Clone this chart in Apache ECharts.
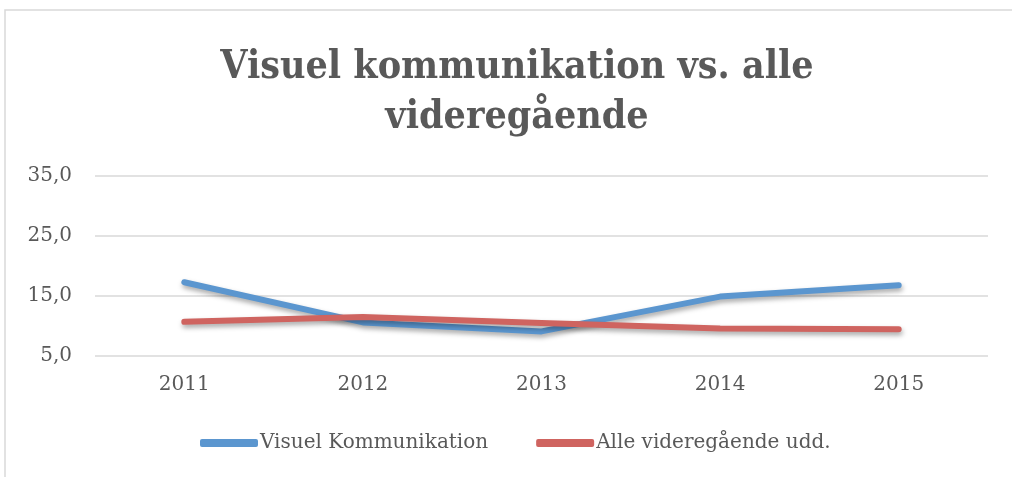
<!DOCTYPE html>
<html><head><meta charset="utf-8">
<script src="https://cdn.jsdelivr.net/npm/echarts@6/dist/echarts.min.js"></script>
<style>html,body{margin:0;padding:0;background:#fff}#c{width:1012px;height:477px}</style>
</head><body><div id="c"></div>
<script>
const categories = ['2011','2012','2013','2014','2015'];
const visuelKommunikation = [17.3, 10.6, 9.1, 14.9, 16.8];
const alleVideregaende = [10.7, 11.5, 10.5, 9.6, 9.45];
const seriesNames = ['Visuel Kommunikation', 'Alle videregående udd.'];
const titleText = 'Visuel kommunikation vs. alle\nvideregående';

const chart = echarts.init(document.getElementById('c'), null, {renderer:'canvas'});
const serif = '"DejaVu Serif", serif';
const gray = '#595959';
function lineSeries(name, data, color){
  return {
    name, type:'line', data, symbol:'none', smooth:false,
    lineStyle:{width:6, color, cap:'round', join:'round',
      shadowColor:'rgba(0,0,0,0.35)', shadowBlur:5, shadowOffsetY:3, shadowOffsetX:1},
    itemStyle:{color}
  };
}
chart.setOption({
  animation:false,
  graphic:[{type:'polyline', shape:{points:[[5,477],[5,10],[1012,10]]},
    style:{stroke:'#d9d9d9', lineWidth:1.5, fill:null}}],
  title:{text:titleText, left:512, textAlign:'center', top:38,
    textStyle:{fontFamily:'"DejaVu Serif Condensed", "DejaVu Serif", serif', fontWeight:'bold', fontSize:39, color:gray, lineHeight:50}},
  grid:{left:95, right:24, top:176, bottom:121, containLabel:false},
  legend:{top:428, left:195, itemWidth:58, itemHeight:8, itemGap:48,
    icon:'roundRect',
    textStyle:{fontFamily:serif, fontSize:20, color:gray, padding:[0,0,0,-3]},
    data:seriesNames},
  xAxis:{type:'category', data:categories, boundaryGap:true,
    axisLine:{show:false}, axisTick:{show:false},
    axisLabel:{fontFamily:serif, fontSize:20, color:gray, margin:19}},
  yAxis:{type:'value', min:5, max:35, interval:10,
    axisLine:{show:false}, axisTick:{show:false},
    splitLine:{lineStyle:{color:'#d9d9d9', width:1.5}},
    axisLabel:{fontFamily:serif, fontSize:20, color:gray, margin:23,
      formatter:v=>v.toFixed(1).replace('.',',')}},
  series:[
    lineSeries(seriesNames[0], visuelKommunikation, '#5B96CF'),
    lineSeries(seriesNames[1], alleVideregaende, '#CF6460')
  ]
});
</script></body></html>
